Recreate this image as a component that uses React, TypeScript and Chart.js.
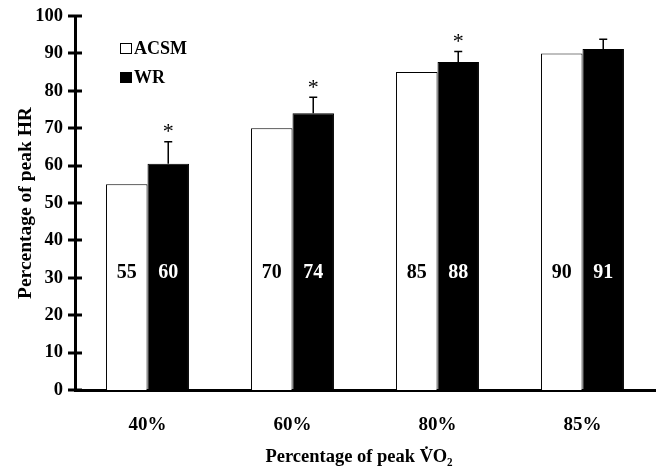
import React, { useEffect, useRef } from "react";
import { Chart, registerables } from "chart.js";

Chart.register(...registerables);

const categories = ["40%", "60%", "80%", "85%"];
const acsmValues = [55, 70, 85, 90];
const wrValues = [60.5, 74, 87.7, 91.2];
const wrErrorTop = [66.4, 78.3, 90.5, 93.8];
const wrSignificant = [true, true, true, false];
const acsmLabels = ["55", "70", "85", "90"];
const wrLabels = ["60", "74", "88", "91"];
const legendLabels = ["ACSM", "WR"];
const yTitle = "Percentage of peak HR";
const xTitle = "Percentage of peak V\u0307O\u2082";

const FONT = "'Liberation Serif', 'Times New Roman', serif";

const extrasPlugin = {
  id: "extras",
  afterDatasetsDraw(chart: any) {
    const ctx = chart.ctx;
    const y = chart.scales.y;
    const area = chart.chartArea;
    ctx.save();
    // y ticks crossing the axis
    ctx.strokeStyle = "#000";
    ctx.lineWidth = 3;
    y.ticks.forEach((t: any) => {
      const py = Math.round(y.getPixelForValue(t.value));
      ctx.beginPath();
      ctx.moveTo(area.left - 7, py);
      ctx.lineTo(area.left + 7, py);
      ctx.stroke();
    });
    const m0 = chart.getDatasetMeta(0);
    const m1 = chart.getDatasetMeta(1);
    // error bars + asterisks
    m1.data.forEach((bar: any, i: number) => {
      const top = y.getPixelForValue(wrErrorTop[i]);
      ctx.strokeStyle = "#000";
      ctx.lineWidth = 1.5;
      ctx.beginPath();
      ctx.moveTo(bar.x, bar.y);
      ctx.lineTo(bar.x, top);
      ctx.moveTo(bar.x - 4, top);
      ctx.lineTo(bar.x + 4, top);
      ctx.stroke();
      if (wrSignificant[i]) {
        ctx.fillStyle = "#000";
        ctx.font = `22px ${FONT}`;
        ctx.textAlign = "center";
        ctx.textBaseline = "middle";
        ctx.fillText("*", bar.x, top - 9);
      }
    });
    // value labels
    ctx.font = `bold 20px ${FONT}`;
    ctx.textAlign = "center";
    ctx.textBaseline = "middle";
    const ly = y.getPixelForValue(31.3);
    m0.data.forEach((bar: any, i: number) => {
      ctx.fillStyle = "#000";
      ctx.fillText(acsmLabels[i], bar.x, ly);
    });
    m1.data.forEach((bar: any, i: number) => {
      ctx.fillStyle = "#fff";
      ctx.fillText(wrLabels[i], bar.x, ly);
    });
    // legend
    ctx.font = `bold 18px ${FONT}`;
    ctx.textAlign = "left";
    ctx.textBaseline = "middle";
    ctx.lineWidth = 1;
    ctx.strokeStyle = "#000";
    ctx.fillStyle = "#fff";
    ctx.fillRect(120.5, 43.5, 11, 10);
    ctx.strokeRect(120.5, 43.5, 11, 10);
    ctx.fillStyle = "#000";
    ctx.fillText(legendLabels[0], 134, 49);
    ctx.fillRect(120, 72, 12, 11);
    ctx.fillText(legendLabels[1], 134, 78);
    // x title
    ctx.font = `bold 18.5px ${FONT}`;
    ctx.textAlign = "center";
    ctx.fillText(xTitle, 359, 457);
    ctx.restore();
  },
};

export default function App() {
  const ref = useRef<HTMLCanvasElement>(null);
  useEffect(() => {
    if (!ref.current) return;
    const chart = new Chart(ref.current, {
      type: "bar",
      data: {
        labels: categories,
        datasets: [
          {
            label: legendLabels[0],
            data: acsmValues,
            backgroundColor: "#fff",
            borderColor: "#000",
            borderWidth: 1,
            categoryPercentage: 0.572,
            barPercentage: 1,
          },
          {
            label: legendLabels[1],
            data: wrValues,
            backgroundColor: "#000",
            borderColor: "#000",
            borderWidth: 1,
            categoryPercentage: 0.572,
            barPercentage: 1,
          },
        ],
      },
      options: {
        responsive: false,
        animation: false,
        layout: { padding: { top: 16, right: 3, left: 0, bottom: 0 } },
        plugins: {
          legend: { display: false },
          tooltip: { enabled: false },
        },
        scales: {
          x: {
            grid: { display: false, drawTicks: false },
            border: { display: true, color: "#000", width: 3 },
            ticks: {
              color: "#000",
              padding: 24,
              font: { family: FONT, size: 19, weight: "bold" },
            },
            afterFit: (s: any) => {
              s.height = 77;
              s.paddingLeft = 0;
              s.paddingRight = 0;
            },
          },
          y: {
            min: 0,
            max: 100,
            grid: { display: false, drawTicks: false },
            border: { display: true, color: "#000", width: 3 },
            ticks: {
              stepSize: 10,
              color: "#000",
              padding: 12,
              font: { family: FONT, size: 18.5, weight: "bold" },
            },
            title: {
              display: true,
              text: yTitle,
              color: "#000",
              padding: { top: 14, bottom: 0 },
              font: { family: FONT, size: 19.5, weight: "bold" },
            },
            afterFit: (s: any) => {
              s.width = 75;
              s.paddingTop = 0;
              s.paddingBottom = 0;
            },
          },
        },
      },
      plugins: [extrasPlugin],
    });
    return () => chart.destroy();
  }, []);
  return (
    <div style={{ position: "fixed", left: 0, top: 0, width: 658, height: 467, background: "#fff" }}>
      <canvas ref={ref} width={658} height={467} />
    </div>
  );
}
